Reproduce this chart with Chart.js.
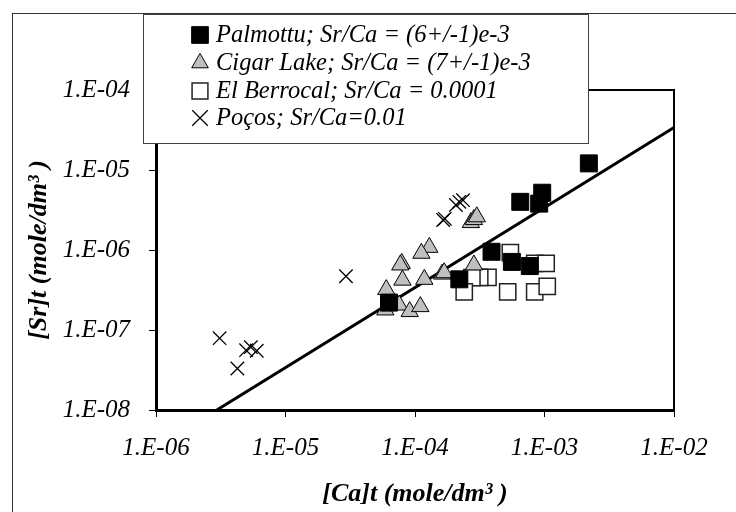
<!DOCTYPE html>
<html>
<head>
<meta charset="utf-8">
<script src="https://cdn.jsdelivr.net/npm/chart.js@4/dist/chart.umd.min.js"></script>
<style>
  body { margin: 0; background: #fff; }
  canvas { display: block; }
</style>
</head>
<body>
<canvas id="sr-ca-chart" width="736" height="512"></canvas>
<script>
// [Ca]t and [Sr]t (mole/dm3)
var palmottuCa = [2.2e-3, 9.6e-4, 6.5e-4, 9.1e-4, 3.9e-4, 5.6e-4, 7.7e-4, 2.2e-4, 6.3e-5];
var palmottuSr = [1.21e-5, 5.2e-6, 4.0e-6, 3.8e-6, 9.5e-7, 7.1e-7, 6.3e-7, 4.3e-7, 2.2e-7];

var cigarCa = [2.7e-4, 2.85e-4, 3.0e-4, 1.29e-4, 1.12e-4, 7.9e-5, 7.7e-5, 8.0e-5, 1.18e-4, 1.62e-4, 1.68e-4, 2.85e-4, 6.0e-5, 7.55e-5, 5.9e-5, 9.1e-5, 1.1e-4];
var cigarSr = [2.2e-6, 2.4e-6, 2.6e-6, 1.08e-6, 9.1e-7, 6.8e-7, 6.5e-7, 4.2e-7, 4.3e-7, 5.0e-7, 5.2e-7, 6.5e-7, 3.2e-7, 2.05e-7, 1.78e-7, 1.7e-7, 1.96e-7];

var berrocalCa = [5.45e-4, 8.4e-4, 1.03e-3, 3.66e-4, 3.16e-4, 2.75e-4, 2.4e-4, 5.2e-4, 8.4e-4, 1.05e-3];
var berrocalSr = [9.25e-7, 6.8e-7, 6.8e-7, 4.56e-7, 4.56e-7, 4.5e-7, 3.0e-7, 3.0e-7, 3.0e-7, 3.5e-7];

var pocosCa = [3.1e-6, 4.25e-6, 4.96e-6, 5.4e-6, 6.0e-6, 2.93e-5, 1.65e-4, 1.7e-4, 2.07e-4, 2.2e-4, 2.35e-4];
var pocosSr = [7.9e-8, 3.3e-8, 5.6e-8, 6.1e-8, 5.5e-8, 4.7e-7, 2.37e-6, 2.45e-6, 3.65e-6, 4.0e-6, 4.2e-6];

// fitted Sr/Ca line, two ends
var fitCa = [2.95e-6, 1e-2];
var fitSr = [1e-8, 3.4e-5];

var xTickValues = [1e-6, 1e-5, 1e-4, 1e-3, 1e-2];
var yTickValues = [1e-8, 1e-7, 1e-6, 1e-5, 1e-4];

var seriesLabels = [
  'Palmottu; Sr/Ca = (6+/-1)e-3',
  'Cigar Lake; Sr/Ca = (7+/-1)e-3',
  'El Berrocal; Sr/Ca = 0.0001',
  'Poços; Sr/Ca=0.01'
];

function pts(xs, ys) {
  return xs.map(function(x, i) { return { x: x, y: ys[i] } })
}

function sciLabel(value) {
  var e = Math.round(Math.log10(value))
  var s = String(Math.abs(e)).padStart(2, '0')
  return '1.E' + (e < 0 ? '-' : '+') + s
}

var serif = '"Liberation Serif", "Times New Roman", serif'

var frameAndLegend = {
  id: 'frameAndLegend',
  beforeDraw: function(chart) {
    var ctx = chart.ctx
    ctx.save()
    ctx.fillStyle = '#fff'
    ctx.fillRect(0, 0, chart.width, chart.height)
    ctx.strokeStyle = '#333'
    ctx.lineWidth = 1
    ctx.strokeRect(12.5, 13.5, 800, 600)
    ctx.restore()
  },
  afterDatasetsDraw: function(chart) {
    var ctx = chart.ctx
    var a = chart.chartArea
    ctx.save()
    ctx.strokeStyle = '#000'
    ctx.lineWidth = 2
    ctx.beginPath()
    ctx.moveTo(a.left, a.top)
    ctx.lineTo(a.right, a.top)
    ctx.lineTo(a.right, a.bottom)
    ctx.stroke()
    ctx.restore()
  },
  afterDraw: function(chart) {
    var ctx = chart.ctx
    ctx.save()
    ctx.fillStyle = '#fff'
    ctx.fillRect(143.5, 14.5, 445, 129)
    ctx.strokeStyle = '#404040'
    ctx.lineWidth = 1
    ctx.strokeRect(143.5, 14.5, 445, 129)
    var rows = [35, 63, 91, 118]
    var sizes = [11.8, 9.6, 11.2, 11]
    ctx.font = 'italic 24.5px ' + serif
    ctx.textBaseline = 'middle'
    ctx.textAlign = 'left'
    chart.data.datasets.slice(0, 4).forEach(function(ds, i) {
      ctx.fillStyle = ds.backgroundColor
      ctx.strokeStyle = ds.borderColor
      ctx.lineWidth = ds.borderWidth
      Chart.helpers.drawPoint(ctx, { pointStyle: ds.pointStyle, radius: sizes[i], borderWidth: ds.borderWidth, rotation: 0 }, 200, rows[i])
      ctx.fillStyle = '#000'
      ctx.fillText(ds.label, 216, rows[i] + 1)
    })
    ctx.restore()
  }
}

var ctx = document.getElementById('sr-ca-chart').getContext('2d')
var chart = new Chart(ctx, {
  type: 'scatter',
  data: {
    datasets: [
      {
        label: seriesLabels[0],
        data: pts(palmottuCa, palmottuSr),
        pointStyle: 'rect',
        pointRadius: 12,
        backgroundColor: '#000',
        borderColor: '#000',
        borderWidth: 1
      },
      {
        label: seriesLabels[1],
        data: pts(cigarCa, cigarSr),
        pointStyle: 'triangle',
        pointRadius: 10,
        backgroundColor: '#c0c0c0',
        borderColor: '#000',
        borderWidth: 1
      },
      {
        label: seriesLabels[2],
        data: pts(berrocalCa, berrocalSr),
        pointStyle: 'rect',
        pointRadius: 11.5,
        backgroundColor: '#fff',
        borderColor: '#222',
        borderWidth: 1.5
      },
      {
        label: seriesLabels[3],
        data: pts(pocosCa, pocosSr),
        pointStyle: 'crossRot',
        pointRadius: 9.5,
        backgroundColor: '#000',
        borderColor: '#000',
        borderWidth: 1.3
      },
      {
        label: 'fit',
        type: 'line',
        data: pts(fitCa, fitSr),
        showLine: true,
        pointRadius: 0,
        borderColor: '#000',
        borderWidth: 3,
        fill: false
      }
    ]
  },
  options: {
    responsive: false,
    animation: false,
    events: [],
    layout: { padding: { left: 0, right: 62, top: 90, bottom: 0 } },
    scales: {
      x: {
        type: 'logarithmic',
        min: 1e-6,
        max: 1e-2,
        afterBuildTicks: function(scale) {
          scale.ticks = xTickValues.map(function(v) { return { value: v } })
        },
        afterFit: function(scale) { scale.height = 102 },
        ticks: {
          autoSkip: false,
          maxRotation: 0,
          padding: 16,
          color: '#000',
          font: { family: serif, size: 25, style: 'italic' },
          callback: function(value) { return sciLabel(value) }
        },
        grid: { drawOnChartArea: false, drawTicks: true, tickLength: 7, tickColor: '#000', tickWidth: 1 },
        border: { display: true, color: '#000', width: 3 },
        title: {
          display: true,
          text: '[Ca]t (mole/dm³ )',
          color: '#000',
          padding: { top: 0, bottom: 2 },
          font: { family: serif, size: 26, style: 'italic', weight: 'bold' }
        }
      },
      y: {
        type: 'logarithmic',
        min: 1e-8,
        max: 1e-4,
        afterBuildTicks: function(scale) {
          scale.ticks = yTickValues.map(function(v) { return { value: v } })
        },
        afterFit: function(scale) { scale.width = 156 },
        ticks: {
          autoSkip: false,
          padding: 19,
          color: '#000',
          font: { family: serif, size: 25, style: 'italic' },
          callback: function(value) { return sciLabel(value) }
        },
        grid: { drawOnChartArea: false, drawTicks: true, tickLength: 7, tickColor: '#000', tickWidth: 1 },
        border: { display: true, color: '#000', width: 3 },
        title: {
          display: true,
          text: '[Sr]t (mole/dm³ )',
          color: '#000',
          padding: { top: 24, bottom: 0 },
          font: { family: serif, size: 26, style: 'italic', weight: 'bold' }
        }
      }
    },
    plugins: {
      legend: { display: false },
      tooltip: { enabled: false }
    }
  },
  plugins: [frameAndLegend]
})
</script>
</body>
</html>
